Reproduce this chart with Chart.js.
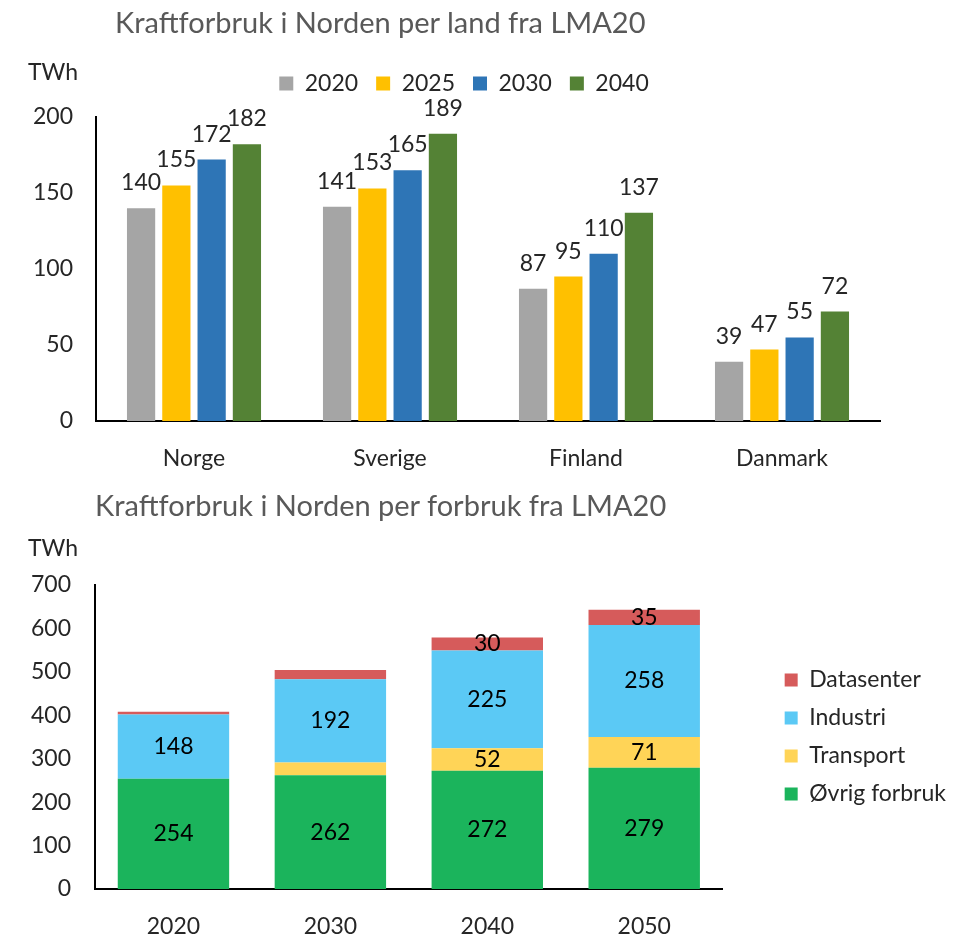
<!DOCTYPE html>
<html>
<head>
<meta charset="utf-8">
<script src="https://cdn.jsdelivr.net/npm/chart.js@4"></script>
<style>
  body { margin: 0; background: #fff; font-family: Lato, sans-serif; }
  #page { position: relative; width: 974px; height: 936px; overflow: hidden; }
  canvas { position: absolute; left: 0; }
  .title { position: absolute; font-size: 29px; line-height: 1; color: #595959; white-space: nowrap; }
  .unit { position: absolute; font-size: 23px; line-height: 1; color: #262626; }
</style>
</head>
<body>
<div id="page">
  <canvas id="landChart" width="974" height="480" style="top:0"></canvas>
  <canvas id="useChart" width="974" height="456" style="top:480px"></canvas>
  <div class="title" style="left:115px; top:7px">Kraftforbruk i Norden per land fra LMA20</div>
  <div class="unit" style="left:28px; top:60px">TWh</div>
  <div class="title" style="left:95px; top:490px">Kraftforbruk i Norden per forbruk fra LMA20</div>
  <div class="unit" style="left:28px; top:536px">TWh</div>
</div>
<script>
// -----------------------------------
// Consumption per country (TWh).
let countries = ["Norge", "Sverige", "Finland", "Danmark"];
let years = ["2020", "2025", "2030", "2040"];
let use2020 = [140, 141, 87, 39];
let use2025 = [155, 153, 95, 47];
let use2030 = [172, 165, 110, 55];
let use2040 = [182, 189, 137, 72];
let landTicks = [0, 50, 100, 150, 200];

// Consumption per use (TWh), stacked from the bottom.
let periods = ["2020", "2030", "2040", "2050"];
let useNames = ["Øvrig forbruk", "Transport", "Industri", "Datasenter"];
let ovrig = [254, 262, 272, 279];
let transport = [0, 29, 52, 71];
let industri = [148, 192, 225, 258];
let datasenter = [6, 21, 30, 35];
let useTicks = [0, 100, 200, 300, 400, 500, 600, 700];

let yearColors = ["#A5A5A5", "#FFC000", "#2E75B6", "#548235"];
let useColors = ["#1BB45C", "#FFD457", "#5BC9F5", "#D65B5B"];
// -----------------------------------

let textColor = "#262626";
let font23 = { family: "Lato", size: 23 };

// Invisible scale that only reserves room in the layout.
function spacer(position, size) {
  return {
    type: "linear",
    position: position,
    display: false,
    afterFit: (s) => {
      if (position === "top" || position === "bottom") s.height = size;
      else s.width = size;
    }
  };
}

// Value above every bar.
let valueAbove = {
  id: "valueAbove",
  afterDatasetsDraw(chart) {
    let ctx = chart.ctx;
    ctx.save();
    ctx.font = "23px Lato";
    ctx.fillStyle = textColor;
    ctx.textAlign = "center";
    ctx.textBaseline = "alphabetic";
    chart.data.datasets.forEach((ds, i) => {
      chart.getDatasetMeta(i).data.forEach((bar, j) => {
        ctx.fillText(ds.data[j], bar.x, bar.y - 18);
      });
    });
    ctx.restore();
  }
};

// Value in the middle of each stacked piece, only where it fits.
let valueInside = {
  id: "valueInside",
  afterDatasetsDraw(chart) {
    let ctx = chart.ctx;
    ctx.save();
    ctx.font = "23px Lato";
    ctx.fillStyle = "#000";
    ctx.textAlign = "center";
    ctx.textBaseline = "middle";
    chart.data.datasets.forEach((ds, i) => {
      chart.getDatasetMeta(i).data.forEach((bar, j) => {
        if (ds.data[j] < 30) return;
        ctx.fillText(ds.data[j], bar.x, (bar.y + bar.base) / 2);
      });
    });
    ctx.restore();
  }
};

let landSeries = [use2020, use2025, use2030, use2040];
new Chart(document.getElementById("landChart"), {
  type: "bar",
  data: {
    labels: countries,
    datasets: years.map((y, i) => ({
      label: y,
      data: landSeries[i],
      backgroundColor: yearColors[i],
      borderWidth: 0
    }))
  },
  options: {
    responsive: false,
    animation: false,
    events: [],
    categoryPercentage: 0.72,
    barPercentage: 0.8,
    layout: { padding: { left: 0, right: 46, top: 54, bottom: 0 } },
    plugins: {
      legend: {
        position: "top",
        labels: { font: font23, color: textColor, boxWidth: 14, boxHeight: 14, padding: 18 }
      },
      tooltip: { enabled: false }
    },
    scales: {
      x: {
        grid: { display: false, drawTicks: false },
        border: { display: true, color: "#000", width: 2 },
        ticks: { font: font23, color: textColor, padding: 24 },
        afterFit: (s) => { s.height = 59; }
      },
      y: {
        min: 0,
        max: 200,
        afterBuildTicks: (s) => { s.ticks = landTicks.map((v) => ({ value: v })); },
        grid: { display: false, drawTicks: false },
        border: { display: true, color: "#000", width: 2 },
        ticks: { font: font23, color: textColor, padding: 23 },
        afterFit: (s) => { s.width = 96; }
      },
      gapTop: spacer("top", 12),
      gapRight: spacer("right", 48)
    }
  },
  plugins: [valueAbove]
});

let useSeries = [ovrig, transport, industri, datasenter];
new Chart(document.getElementById("useChart"), {
  type: "bar",
  data: {
    labels: periods,
    datasets: useNames.map((n, i) => ({
      label: n,
      data: useSeries[i],
      backgroundColor: useColors[i],
      borderWidth: 0
    }))
  },
  options: {
    responsive: false,
    animation: false,
    events: [],
    categoryPercentage: 1,
    barPercentage: 0.71,
    layout: { padding: { left: 0, right: 18, top: 105, bottom: 0 } },
    plugins: {
      legend: {
        position: "right",
        fullSize: false,
        reverse: true,
        labels: { font: font23, color: textColor, boxWidth: 13, boxHeight: 13, padding: 15 }
      },
      tooltip: { enabled: false }
    },
    scales: {
      x: {
        stacked: true,
        grid: { display: false, drawTicks: false },
        border: { display: true, color: "#000", width: 2 },
        ticks: { font: font23, color: textColor, padding: 24 },
        afterFit: (s) => { s.height = 47; }
      },
      y: {
        stacked: true,
        min: 0,
        max: 700,
        afterBuildTicks: (s) => { s.ticks = useTicks.map((v) => ({ value: v })); },
        grid: { display: false, drawTicks: false },
        border: { display: true, color: "#000", width: 2 },
        ticks: { font: font23, color: textColor, padding: 24 },
        afterFit: (s) => { s.width = 95; }
      },
      gapRight: spacer("right", 47)
    }
  },
  plugins: [valueInside]
});
</script>
</body>
</html>
